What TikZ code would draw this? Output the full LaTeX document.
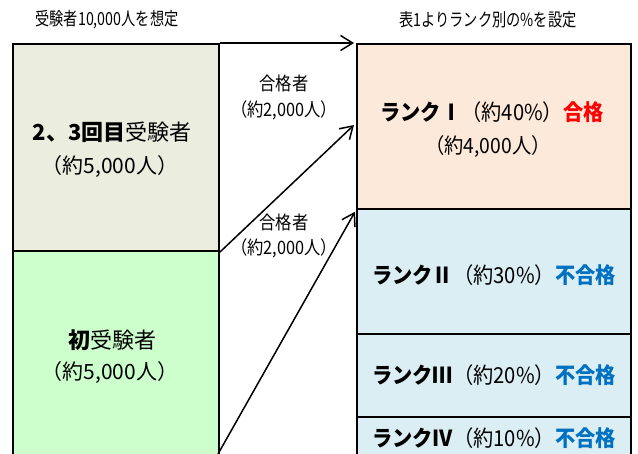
\documentclass[tikz,border=0pt]{standalone}
\usepackage{fontspec}
\setmainfont{Noto Sans CJK JP}
\newfontfamily\jptitle{Noto Sans CJK JP}[FakeStretch=0.79]
\newfontfamily\jplabel{Noto Sans CJK JP}[FakeStretch=0.88]
\newfontfamily\jprank{Noto Sans CJK JP}[FakeStretch=0.92]
\usetikzlibrary{arrows.meta}
\definecolor{olivebg}{HTML}{EBEDDF}
\definecolor{greenbg}{HTML}{CCFFCC}
\definecolor{peachbg}{HTML}{FDE9D9}
\definecolor{bluebg}{HTML}{DAEEF3}
\definecolor{passred}{HTML}{FF0000}
\definecolor{failblue}{HTML}{0070C0}
\begin{document}
\begin{tikzpicture}[x=1pt,y=-1pt,
  box/.style={draw=black,line width=2pt,anchor=north west,inner sep=0pt},
  arr/.style={draw=black,line width=1.5pt,-{Straight Barb[length=12pt,width=15pt]}},
  title/.style={font=\jptitle\fontsize{18}{20}\selectfont,inner sep=0pt},
  lbl/.style={font=\jplabel\fontsize{18.5}{20}\selectfont,inner sep=0pt},
  big/.style={font=\fontsize{22}{26}\selectfont,inner sep=0pt},
  mid/.style={font=\fontsize{21}{24}\selectfont,inner sep=0pt},
  rank/.style={font=\jprank\fontsize{22}{26}\selectfont,inner sep=0pt},
  rankmid/.style={font=\jprank\fontsize{21}{24}\selectfont,inner sep=0pt}]
\useasboundingbox (0,0) rectangle (638,454);
\clip (0,0) rectangle (638,454);
% boxes
\node[box,fill=olivebg,minimum width=206pt,minimum height=207pt] (top) at (12,43) {};
\node[box,fill=greenbg,minimum width=206pt,minimum height=220pt] (bot) at (12,250) {};
\node[box,fill=peachbg,minimum width=274pt,minimum height=165pt] (r1) at (356,43) {};
\node[box,fill=bluebg,minimum width=274pt,minimum height=125pt] (r2) at (356,208) {};
\node[box,fill=bluebg,minimum width=274pt,minimum height=83pt] (r3) at (356,333) {};
\node[box,fill=bluebg,minimum width=274pt,minimum height=60pt] (r4) at (356,416) {};
% titles
\node[title] (t1) at (107,20) {受験者10,000人を想定};
\node[title] (t2) at (488,20) {表1よりランク別の\%を設定};
% left texts
\node[big] (l1) at (112,132) {\textbf{2、3回目}受験者};
\node[mid] (l2) at (110,167) {（約5,000人）};
\node[big] (l3) at (112,340) {\textbf{初}受験者};
\node[mid] (l4) at (110,373) {（約5,000人）};
% right texts
\node[rank] (k1) at (492,112) {\textbf{ランクⅠ}（約40\%）\textcolor{passred}{\textbf{合格}}};
\node[rankmid] (k1b) at (488,147) {（約4,000人）};
\node[rank] (k2) at (494,275) {\textbf{ランクⅡ}（約30\%）\textcolor{failblue}{\textbf{不合格}}};
\node[rank] (k3) at (494,375) {\textbf{ランクⅢ}（約20\%）\textcolor{failblue}{\textbf{不合格}}};
\node[rank] (k4) at (494,438) {\textbf{ランクⅣ}（約10\%）\textcolor{failblue}{\textbf{不合格}}};
% arrow labels
\node[lbl] (a1) at (284,83) {合格者};
\node[lbl] (a2) at (284,110) {（約2,000人）};
\node[lbl] (a3) at (284,222) {合格者};
\node[lbl] (a4) at (284,248) {（約2,000人）};
% arrows
\coordinate (e2) at (354,125);
\coordinate (s3) at (218,454);
\draw[arr,shorten >=2pt] (top.north east) -- (r1.north west);
\draw[arr] (top.south east) -- (e2);
\draw[arr,shorten >=2pt] (s3) -- (r1.south west);
\end{tikzpicture}
\end{document}
